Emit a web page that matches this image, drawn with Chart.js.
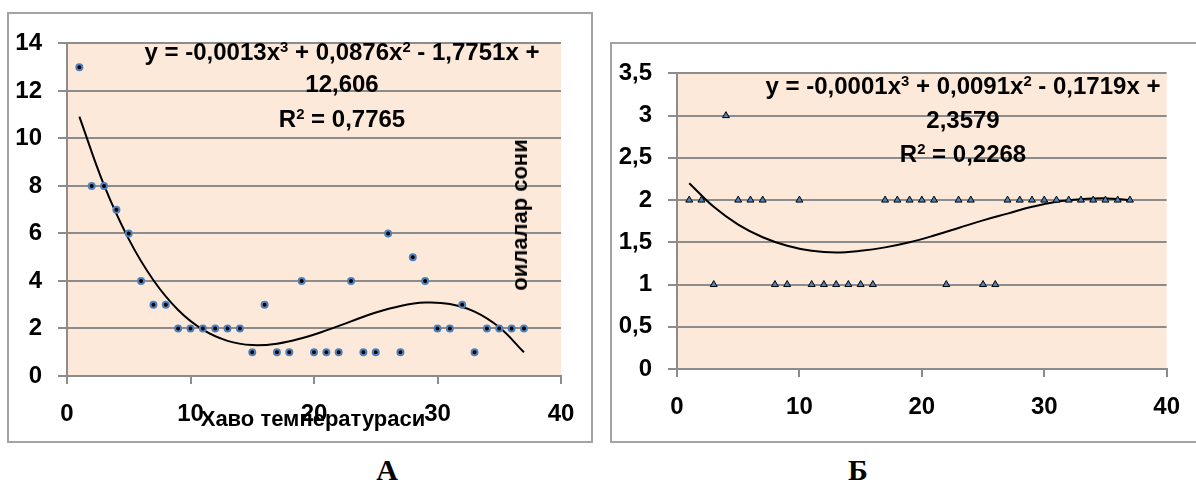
<!DOCTYPE html>
<html><head><meta charset="utf-8">
<script src="https://cdn.jsdelivr.net/npm/chart.js"></script>
<style>
html,body{margin:0;padding:0;background:#fff;width:1196px;height:484px;overflow:hidden;position:relative;font-family:"Liberation Sans", sans-serif;}
.box{position:absolute;border:2px solid #a3a3a3;box-sizing:border-box;}
canvas{position:absolute;}
.t{position:absolute;font-weight:700;white-space:nowrap;line-height:1;color:#000;font-family:"Liberation Sans", sans-serif;}
.eq{font-size:24px;transform:translateX(-50%);}
.eq .s{font-size:0.62em;position:relative;top:-0.55em;}
.lt{font-family:"Liberation Serif","Times New Roman",serif;font-size:30px;transform:translateX(-50%);}
</style></head><body>
<div class="box" style="left:7px;top:12px;width:586px;height:431px"></div>
<div class="box" style="left:610px;top:42px;width:600px;height:401px"></div>
<canvas id="cA" width="584" height="428" style="left:8px;top:13px"></canvas>
<canvas id="cB" width="585" height="398" style="left:611px;top:43px"></canvas>

<div class="t eq" style="left:342px;top:40px">y = -0,0013x<span class="s">3</span> + 0,0876x<span class="s">2</span> - 1,7751x +</div>
<div class="t eq" style="left:342px;top:72px">12,606</div>
<div class="t eq" style="left:342px;top:107px">R<span class="s">2</span> = 0,7765</div>
<div class="t" style="left:520px;top:215px;font-size:22px;transform:translate(-50%,-50%) rotate(-90deg);">оилалар сони</div>
<div class="t" style="left:313px;top:408px;font-size:22px;transform:translateX(-50%);">Хаво температураси</div>

<div class="t eq" style="left:963px;top:74px">y = -0,0001x<span class="s">3</span> + 0,0091x<span class="s">2</span> - 0,1719x +</div>
<div class="t eq" style="left:963px;top:108px">2,3579</div>
<div class="t eq" style="left:963px;top:142px">R<span class="s">2</span> = 0,2268</div>

<div class="t lt" style="left:387px;top:455px">А</div>
<div class="t lt" style="left:858px;top:455px">Б</div>

<script>
const xValues = [1,2,3,4,5,6,7,8,9,10,11,12,13,14,15,16,17,18,19,20,21,22,23,24,25,26,27,28,29,30,31,32,33,34,35,36,37];
const familiesA = [13,8,8,7,6,4,3,3,2,2,2,2,2,2,1,3,1,1,4,1,1,1,4,1,1,6,1,5,4,2,2,3,1,2,2,2,2];
const familiesB = [2,2,1,3,2,2,2,1,1,2,1,1,1,1,1,1,2,2,2,2,2,1,2,2,1,1,2,2,2,2,2,2,2,2,2,2,2];
const trendX = [1,3,5,7,9,11,13,15,17,19,21,23,25,27,29,31,33,35,37];
const trendA = [10.92,8.03,5.76,4.03,2.78,1.95,1.48,1.30,1.36,1.59,1.92,2.30,2.67,2.95,3.09,3.03,2.71,2.05,1.00];
const trendB = [2.20,1.92,1.71,1.56,1.46,1.40,1.38,1.40,1.44,1.50,1.58,1.67,1.76,1.84,1.92,1.98,2.01,2.02,2.00];
const xTickLabels = ['0','10','20','30','40'];
const yTickLabelsA = ['0','2','4','6','8','10','12','14'];
const yTickLabelsB = ['0','0,5','1','1,5','2','2,5','3','3,5'];

const GRID = '#8c8c8c';
const tickFont = {family:'"Liberation Sans"', weight:'bold', size:24};

const bgPlugin = {
  id:'bg',
  beforeDraw(chart){
    const {ctx, chartArea:a} = chart;
    ctx.save();
    ctx.fillStyle = '#FDE9D9';
    ctx.fillRect(a.left, a.top, a.right - a.left, a.bottom - a.top);
    ctx.restore();
  }
};

function pts(xs, ys){ return xs.map((x,i)=>({x:x, y:ys[i]})); }

function makeChart(id, pointsDs, trend, yMax, yStep, yLabels, yWidth, xHeight, padRight){
  return new Chart(document.getElementById(id), {
    type:'scatter',
    data:{ datasets:[ pointsDs, {
      data: pts(trendX, trend), showLine:true, borderColor:'#000', borderWidth:2,
      pointRadius:0, tension:0.4, fill:false, order:2
    } ] },
    plugins:[bgPlugin],
    options:{
      responsive:false, animation:false, devicePixelRatio:1,
      layout:{ padding:{ left:0, top:20, right:padRight, bottom:0 } },
      plugins:{ legend:{display:false}, tooltip:{enabled:false} },
      scales:{
        x:{ type:'linear', min:0, max:40,
          ticks:{ stepSize:10, font:tickFont, color:'#000', padding:16, maxRotation:0,
            callback:(v,i)=>xTickLabels[i] },
          grid:{ drawOnChartArea:false, drawTicks:true, tickLength:8, color:GRID, lineWidth:2 },
          border:{ display:true, color:GRID, width:2 },
          afterFit:(s)=>{ s.height = xHeight; }
        },
        y:{ type:'linear', min:0, max:yMax,
          ticks:{ stepSize:yStep, font:tickFont, color:'#000', padding:16,
            callback:(v,i)=>yLabels[i] },
          grid:{ color:GRID, lineWidth:2, tickLength:9, drawTicks:true },
          border:{ display:true, color:GRID, width:2 },
          afterFit:(s)=>{ s.width = yWidth; }
        }
      }
    }
  });
}

makeChart('cA', {
  data: pts(xValues, familiesA), showLine:false, pointStyle:'circle',
  pointRadius:3, pointBackgroundColor:'#000', pointBorderColor:'#4F81BD', pointBorderWidth:2, order:1
}, trendA, 14, 2, yTickLabelsA, 59, 65, 31);

makeChart('cB', {
  data: pts(xValues, familiesB), showLine:false, pointStyle:'triangle',
  pointRadius:4, pointBackgroundColor:'#4F81BD', pointBorderColor:'#000', pointBorderWidth:1, order:1
}, trendB, 3.5, 0.5, yTickLabelsB, 66, 72, 17);
</script>
</body></html>
